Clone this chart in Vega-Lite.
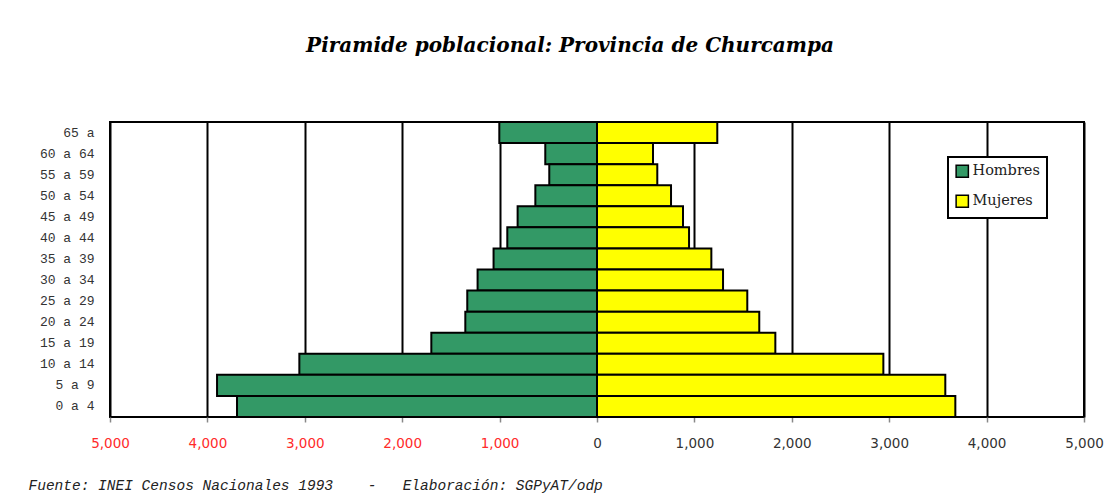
{
  "$schema": "https://vega.github.io/schema/vega-lite/v6.json",
  "width": 974,
  "height": 295,
  "autosize": {"type": "none"},
  "padding": {"left": 110, "top": 122, "right": 36, "bottom": 83},
  "background": "white",
  "title": {
    "text": "Piramide poblacional:  Provincia de Churcampa",
    "font": "DejaVu Serif",
    "fontSize": 20,
    "fontWeight": "bold",
    "fontStyle": "italic",
    "color": "black",
    "anchor": "middle",
    "offset": 65,
    "dx": -27
  },
  "data": {
    "values": [
      {"edad": "65 a", "sexo": "Hombres", "valor": -1003},
      {"edad": "60 a 64", "sexo": "Hombres", "valor": -531},
      {"edad": "55 a 59", "sexo": "Hombres", "valor": -490},
      {"edad": "50 a 54", "sexo": "Hombres", "valor": -633},
      {"edad": "45 a 49", "sexo": "Hombres", "valor": -815},
      {"edad": "40 a 44", "sexo": "Hombres", "valor": -921},
      {"edad": "35 a 39", "sexo": "Hombres", "valor": -1062},
      {"edad": "30 a 34", "sexo": "Hombres", "valor": -1226},
      {"edad": "25 a 29", "sexo": "Hombres", "valor": -1332},
      {"edad": "20 a 24", "sexo": "Hombres", "valor": -1352},
      {"edad": "15 a 19", "sexo": "Hombres", "valor": -1701},
      {"edad": "10 a 14", "sexo": "Hombres", "valor": -3056},
      {"edad": "5 a 9", "sexo": "Hombres", "valor": -3901},
      {"edad": "0 a 4", "sexo": "Hombres", "valor": -3696},
      {"edad": "65 a", "sexo": "Mujeres", "valor": 1235},
      {"edad": "60 a 64", "sexo": "Mujeres", "valor": 575},
      {"edad": "55 a 59", "sexo": "Mujeres", "valor": 619},
      {"edad": "50 a 54", "sexo": "Mujeres", "valor": 760},
      {"edad": "45 a 49", "sexo": "Mujeres", "valor": 883},
      {"edad": "40 a 44", "sexo": "Mujeres", "valor": 945},
      {"edad": "35 a 39", "sexo": "Mujeres", "valor": 1174},
      {"edad": "30 a 34", "sexo": "Mujeres", "valor": 1294},
      {"edad": "25 a 29", "sexo": "Mujeres", "valor": 1543},
      {"edad": "20 a 24", "sexo": "Mujeres", "valor": 1666},
      {"edad": "15 a 19", "sexo": "Mujeres", "valor": 1831},
      {"edad": "10 a 14", "sexo": "Mujeres", "valor": 2940},
      {"edad": "5 a 9", "sexo": "Mujeres", "valor": 3576},
      {"edad": "0 a 4", "sexo": "Mujeres", "valor": 3679}
    ]
  },
  "mark": {"type": "bar", "stroke": "black", "strokeWidth": 2},
  "encoding": {
    "y": {
      "field": "edad",
      "type": "nominal",
      "sort": ["65 a", "60 a 64", "55 a 59", "50 a 54", "45 a 49", "40 a 44", "35 a 39", "30 a 34", "25 a 29", "20 a 24", "15 a 19", "10 a 14", "5 a 9", "0 a 4"],
      "scale": {"paddingInner": 0, "paddingOuter": 0},
      "axis": {
        "title": null,
        "domain": false,
        "ticks": false,
        "labelFont": "Liberation Mono",
        "labelFontSize": 13,
        "labelColor": "#333333",
        "labelPadding": 16
      }
    },
    "x": {
      "field": "valor",
      "type": "quantitative",
      "stack": null,
      "scale": {"domain": [-5000, 5000], "nice": false},
      "axis": {
        "values": [-5000, -4000, -3000, -2000, -1000, 0, 1000, 2000, 3000, 4000, 5000],
        "labelExpr": "format(abs(datum.value), ',')",
        "labelFont": "DejaVu Sans",
        "labelFontSize": 13.5,
        "labelColor": {"condition": {"test": "datum.value < 0", "value": "#ff2a2a"}, "value": "#333333"},
        "labelPadding": 14,
        "labelFlush": false,
        "labelOverlap": false,
        "domain": false,
        "ticks": true,
        "tickColor": "#888888",
        "tickSize": 5,
        "tickWidth": 1.5,
        "grid": true,
        "gridColor": "black",
        "gridWidth": 2,
        "gridOpacity": 1,
        "title": "Fuente: INEI Censos Nacionales 1993\u00a0\u00a0\u00a0\u00a0-\u00a0\u00a0\u00a0Elaboración: SGPyAT/odp",
        "titleFont": "Liberation Mono",
        "titleFontSize": 14.5,
        "titleFontStyle": "italic",
        "titleFontWeight": "normal",
        "titleColor": "#222222",
        "titleAnchor": "start",
        "titleAlign": "left",
        "titleBaseline": "alphabetic",
        "titleX": -82,
        "titleY": 72
      }
    },
    "fill": {
      "field": "sexo",
      "type": "nominal",
      "scale": {"domain": ["Hombres", "Mujeres"], "range": ["#339966", "#ffff00"]},
      "legend": {
        "title": null,
        "orient": "none",
        "legendX": 838,
        "legendY": 35,
        "fillColor": "white",
        "strokeColor": "black",
        "padding": 7,
        "symbolType": "square",
        "symbolSize": 150,
        "symbolStrokeColor": "black",
        "symbolStrokeWidth": 1.5,
        "labelFont": "DejaVu Serif",
        "labelFontSize": 14.5,
        "labelColor": "#222222",
        "labelOffset": 3,
        "rowPadding": 11
      }
    }
  },
  "config": {
    "view": {"stroke": "black", "strokeWidth": 2},
    "legend": {"strokeWidth": 2}
  }
}
